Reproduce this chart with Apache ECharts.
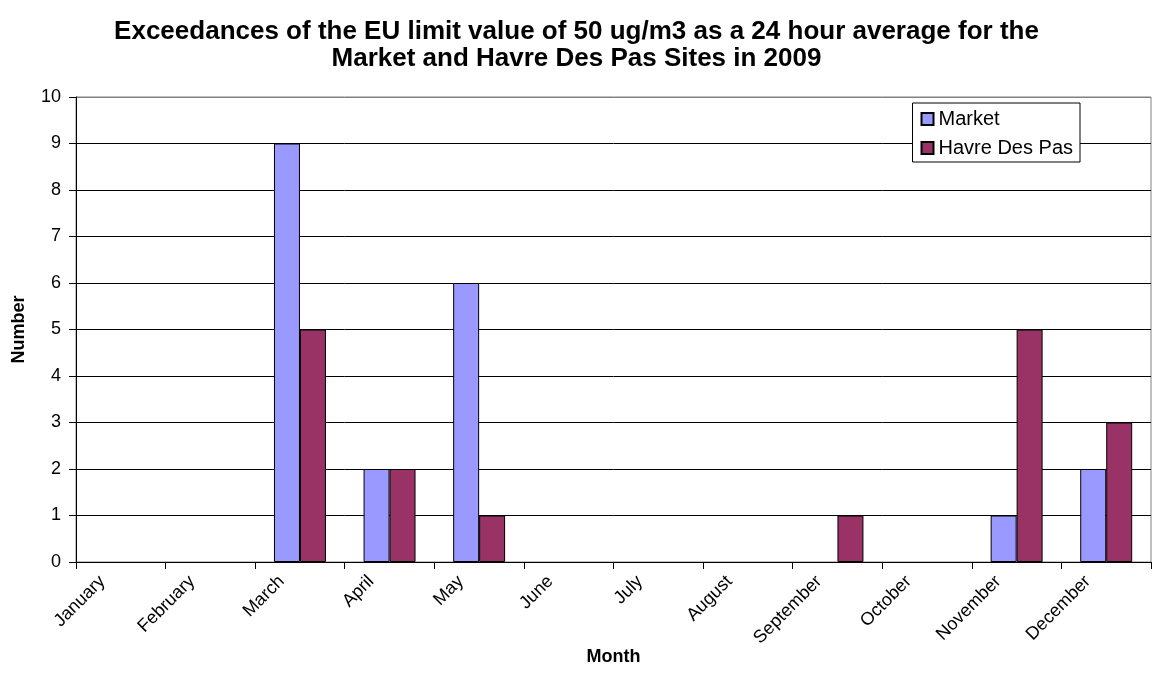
<!DOCTYPE html>
<html>
<head>
<meta charset="utf-8">
<script src="https://cdn.jsdelivr.net/npm/echarts@6/dist/echarts.min.js"></script>
<style>
  html, body { margin: 0; padding: 0; background: #fff; }
  #chart { width: 1153px; height: 697px; }
</style>
</head>
<body>
<div id="chart"></div>
<script>
  // months on the x axis
  var months = ['January', 'February', 'March', 'April', 'May', 'June', 'July',
    'August', 'September', 'October', 'November', 'December']
  // exceedances per month
  var market = [0, 0, 9, 2, 6, 0, 0, 0, 0, 0, 1, 2]
  var havreDesPas = [0, 0, 5, 2, 1, 0, 0, 0, 1, 0, 5, 3]

  var font = 'Liberation Sans, Arial, sans-serif'

  // zero bars have no visible outline in the original
  function bars(values) {
    return values.map(function (v) {
      return v === 0 ? { value: v, itemStyle: { borderWidth: 0 } } : v
    })
  }

  // grid lines black, top one grey like the plot border
  var splitColors = []
  for (var i = 0; i < 10; i++) splitColors.push('#000')
  splitColors.push('#808080')

  var ec = echarts.init(document.getElementById('chart'))
  ec.setOption({
    animation: false,
    textStyle: { fontFamily: font },
    title: {
      left: 'center',
      top: 18,
      padding: 0,
      text: 'Exceedances of the EU limit value of 50 ug/m3 as a 24 hour average for the\nMarket and Havre Des Pas Sites in 2009',
      textStyle: { fontFamily: font, fontSize: 26, fontWeight: 'bold', color: '#000', lineHeight: 27 }
    },
    legend: {
      right: 73,
      top: 103,
      orient: 'vertical',
      itemWidth: 12,
      itemHeight: 12,
      itemGap: 9,
      padding: [6, 7, 4, 8],
      borderColor: '#000',
      borderWidth: 1,
      backgroundColor: '#fff',
      icon: 'rect',
      textStyle: { fontFamily: font, fontSize: 20, color: '#000' },
      data: ['Market', 'Havre Des Pas']
    },
    grid: {
      left: 76,
      right: 2,
      top: 97,
      bottom: 135,
      show: true,
      borderColor: '#808080',
      borderWidth: 1
    },
    xAxis: {
      type: 'category',
      data: months,
      name: 'Month',
      nameLocation: 'middle',
      nameGap: 86,
      nameMoveOverlap: false,
      nameTextStyle: { fontFamily: font, fontSize: 18, fontWeight: 'bold', color: '#000' },
      axisLine: { lineStyle: { color: '#000', width: 1 } },
      axisTick: { show: true, length: 7, lineStyle: { color: '#000' } },
      axisLabel: {
        rotate: 45,
        interval: 0,
        fontSize: 18,
        color: '#000',
        margin: 11,
        verticalAlign: 'bottom',
        padding: [0, 17, 0, 0]
      }
    },
    yAxis: {
      type: 'value',
      min: 0,
      max: 10,
      interval: 1,
      name: 'Number',
      nameLocation: 'middle',
      nameGap: 48,
      nameMoveOverlap: false,
      nameTextStyle: { fontFamily: font, fontSize: 18, fontWeight: 'bold', color: '#000' },
      axisLine: { show: true, lineStyle: { color: '#000', width: 1 } },
      axisTick: { show: true, length: 7, lineStyle: { color: '#000' } },
      axisLabel: { fontSize: 18, color: '#000', margin: 15 },
      splitLine: { show: true, lineStyle: { color: splitColors, width: 1 } }
    },
    series: [
      {
        name: 'Market',
        type: 'bar',
        data: bars(market),
        barGap: '0%',
        barCategoryGap: '42%',
        itemStyle: { color: '#9999FF', borderColor: '#000', borderWidth: 1 }
      },
      {
        name: 'Havre Des Pas',
        type: 'bar',
        data: bars(havreDesPas),
        barGap: '0%',
        barCategoryGap: '42%',
        itemStyle: { color: '#993366', borderColor: '#000', borderWidth: 1 }
      }
    ]
  })
  window.addEventListener('resize', ec.resize)
</script>
</body>
</html>
